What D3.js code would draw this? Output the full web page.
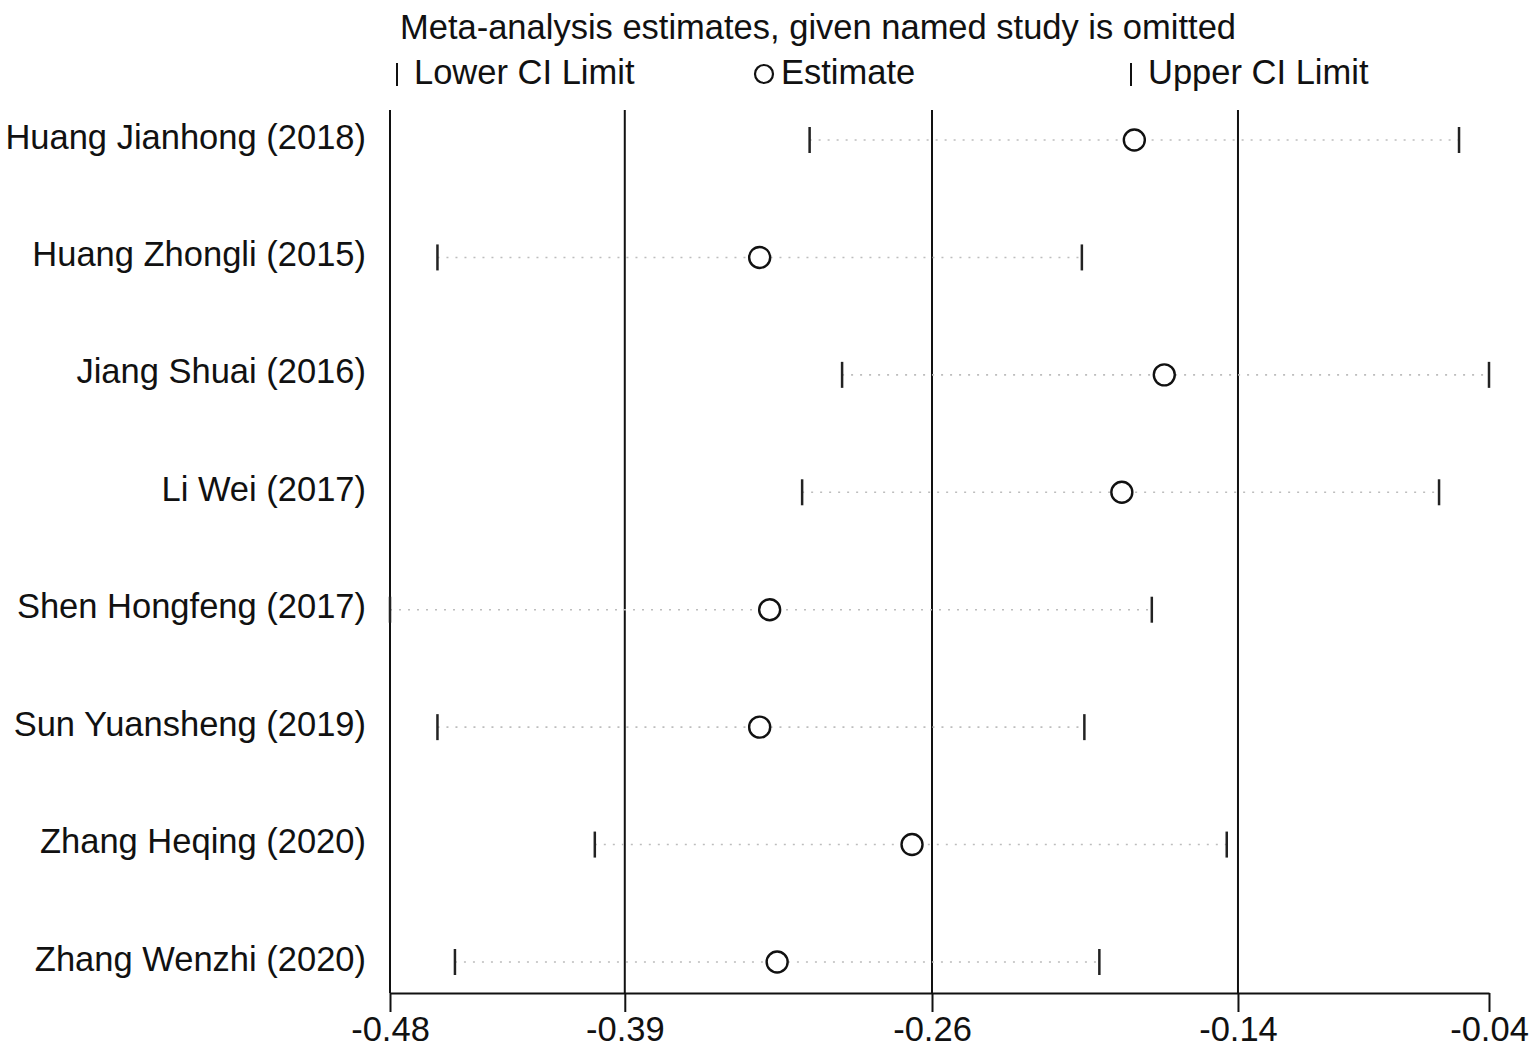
<!DOCTYPE html>
<html>
<head>
<meta charset="utf-8">
<script src="https://cdn.jsdelivr.net/npm/d3@7"></script>
<style>
  html, body { margin: 0; padding: 0; background: #fff; }
  text { font-family: "Liberation Sans", Arial, sans-serif; fill: #111; }
</style>
</head>
<body>
<svg id="chart" width="1535" height="1049"></svg>
<script>
// studies, one row each (omitted study)
const studies = [
    "Huang Jianhong (2018)",
    "Huang Zhongli (2015)",
    "Jiang Shuai (2016)",
    "Li Wei (2017)",
    "Shen Hongfeng (2017)",
    "Sun Yuansheng (2019)",
    "Zhang Heqing (2020)",
    "Zhang Wenzhi (2020)"
];
const lowerCI  = [-0.312, -0.461, -0.299, -0.315, -0.480, -0.461, -0.398, -0.454];
const estimate = [-0.182, -0.332, -0.170, -0.187, -0.328, -0.332, -0.271, -0.325];
const upperCI  = [-0.052, -0.203, -0.040, -0.060, -0.175, -0.202, -0.145, -0.196];

// axis ticks: min, overall lower CI, overall estimate, overall upper CI, max
const tickValues = [-0.48, -0.386, -0.263, -0.1405, -0.04];
const refLines = [-0.386, -0.263, -0.1405];

const svg = d3.select("#chart");
const plotLeft = 390, plotRight = 1489, plotTop = 110, plotBottom = 993;
const fontSize = "34.5px";

let x = d3.scaleLinear().domain([-0.48, -0.04]).range([plotLeft, plotRight]);
let y = d3.scalePoint().domain(studies).range([140, 962]);

let rows = studies.map((s, i) => ({
    name: s, lo: lowerCI[i], est: estimate[i], hi: upperCI[i]
}));

// title and legend
svg.append("text")
    .attr("x", 818).attr("y", 39)
    .attr("text-anchor", "middle")
    .style("font-size", fontSize)
    .text("Meta-analysis estimates, given named study is omitted");

let legend = svg.append("g");
legend.append("line")
    .attr("x1", 397).attr("x2", 397).attr("y1", 63).attr("y2", 86)
    .attr("stroke", "#111").attr("stroke-width", 2);
legend.append("text").attr("x", 414).attr("y", 84)
    .style("font-size", fontSize).text("Lower CI Limit");
legend.append("circle")
    .attr("cx", 764).attr("cy", 74).attr("r", 9)
    .attr("fill", "#fff").attr("stroke", "#111").attr("stroke-width", 2.2);
legend.append("text").attr("x", 781).attr("y", 84)
    .style("font-size", fontSize).text("Estimate");
legend.append("line")
    .attr("x1", 1131).attr("x2", 1131).attr("y1", 63).attr("y2", 86)
    .attr("stroke", "#111").attr("stroke-width", 2);
legend.append("text").attr("x", 1148).attr("y", 84)
    .style("font-size", fontSize).text("Upper CI Limit");

// reference lines at overall estimate and CI
svg.selectAll("line.ref")
    .data(refLines)
    .enter().append("line")
    .attr("class", "ref")
    .attr("x1", d => x(d)).attr("x2", d => x(d))
    .attr("y1", plotTop).attr("y2", plotBottom)
    .attr("stroke", "#111").attr("stroke-width", 2);

// left axis line
svg.append("line")
    .attr("x1", plotLeft).attr("x2", plotLeft).attr("y1", plotTop).attr("y2", plotBottom)
    .attr("stroke", "#111").attr("stroke-width", 2);

// bottom axis
let xAxis = d3.axisBottom(x)
    .tickValues(tickValues)
    .tickSize(19)
    .tickSizeOuter(0)
    .tickPadding(5)
    .tickFormat(d => d.toFixed(2));

let axisG = svg.append("g")
    .attr("transform", "translate(0," + plotBottom + ")")
    .call(xAxis);
axisG.select(".domain").attr("stroke", "#111").attr("stroke-width", 2);
axisG.selectAll(".tick line").attr("stroke", "#111").attr("stroke-width", 2);
axisG.selectAll(".tick text")
    .style("font-size", fontSize)
    .style("font-family", "'Liberation Sans', Arial, sans-serif")
    .attr("fill", "#111");

// study labels
svg.selectAll("text.study")
    .data(rows)
    .enter().append("text")
    .attr("class", "study")
    .attr("x", 366)
    .attr("y", d => y(d.name))
    .attr("dy", "0.25em")
    .attr("text-anchor", "end")
    .style("font-size", fontSize)
    .text(d => d.name);

// dotted CI span
let row = svg.selectAll("g.row")
    .data(rows)
    .enter().append("g")
    .attr("class", "row")
    .attr("transform", d => "translate(0," + y(d.name) + ")");

row.append("line")
    .attr("x1", d => x(d.lo)).attr("x2", d => x(d.hi))
    .attr("stroke", "#bdbdbd").attr("stroke-width", 1.6)
    .attr("stroke-dasharray", "2,7");

// lower and upper limit marks
row.append("line")
    .attr("x1", d => x(d.lo)).attr("x2", d => x(d.lo))
    .attr("y1", -13).attr("y2", 13)
    .attr("stroke", "#222").attr("stroke-width", 2.5);
row.append("line")
    .attr("x1", d => x(d.hi)).attr("x2", d => x(d.hi))
    .attr("y1", -13).attr("y2", 13)
    .attr("stroke", "#222").attr("stroke-width", 2.5);

// estimate circle
row.append("circle")
    .attr("cx", d => x(d.est))
    .attr("r", 10.5)
    .attr("fill", "#fff")
    .attr("stroke", "#111").attr("stroke-width", 2.4);
</script>
</body>
</html>
